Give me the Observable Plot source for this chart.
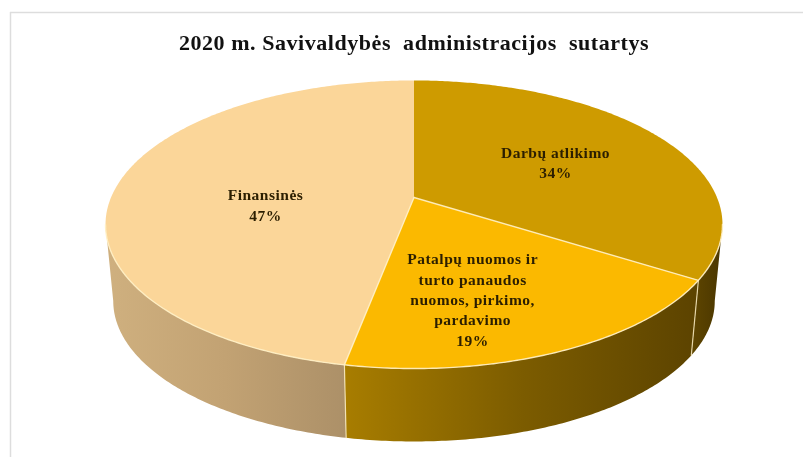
<!DOCTYPE html>
<html>
<head>
<meta charset="utf-8">
<script src="https://cdn.jsdelivr.net/npm/d3@7"></script>
<script src="https://cdn.jsdelivr.net/npm/@observablehq/plot@0.6"></script>
<style>
html,body{margin:0;padding:0;background:#fff}
svg{display:block;filter:blur(0.45px)}
</style>
</head>
<body>
<div id="chart"></div>
<script>
// ---- data ----
const chartTitle = "2020 m. Savivaldybės\u00a0\u00a0administracijos\u00a0\u00a0sutartys";
const categories = ["Darbų atlikimo", "Patalpų nuomos ir\nturto panaudos\nnuomos, pirkimo,\npardavimo", "Finansinės"];
const shares = [34, 19, 47];

// ---- styles ----
const topColors = ["#CE9B00", "#FBB900", "#FBD699"];
const wallStops = [
  ["#5f4600", "#4a3600"],
  ["#a87d00", "#7c5c00", "#5c4300"],
  ["#cfb07f", "#c2a273", "#ac9068"]
];
const seamColor = "#fff0c4";
const frameColor = "#dddddd";
const inkColor = "#2b1e00";

// ---- projection of the tilted disc on the chart plane ----
const W = 803, H = 457;
const cx = 413.5, cy = 197, a = 303, b = 139, k = 0.1875;
const depth = 76.5, bottomScale = 0.975;
const labelTurn = [0.17, 0.4586, 0.7347];
const labelRadius = [0.56, 0.662, 0.488];

function project(theta, r = 1, level = 0) {
  const u = r * Math.sin(theta), v = r * Math.cos(theta), den = 1 + k * v;
  const s = level ? bottomScale : 1;
  const cyAt = level ? cy + depth + (224 - cy) * (1 - s) : cy;
  return {x: cx + s * a * u / den, y: cyAt - s * b * v / den};
}
const TAU = 2 * Math.PI;
const rimLeft = TAU - Math.acos(-k), rimRight = Math.acos(-k);

// slice angles from the shares
const total = d3.sum(shares);
let acc = 0;
const slices = shares.map((s, i) => {
  const start = acc / total * TAU; acc += s;
  return {i, start, end: acc / total * TAU};
});
const arc = (t0, t1, level = 0) => {
  const n = Math.max(2, Math.ceil(Math.abs(t1 - t0) * 90));
  return d3.range(n + 1).map(j => project(t0 + (t1 - t0) * j / n, 1, level));
};

const topPts = slices.flatMap(s =>
  [{x: cx, y: cy}, ...arc(s.start, s.end), {x: cx, y: cy}].map(p => ({...p, slice: s.i})));

const wallSpans = slices
  .map(s => ({i: s.i, t0: Math.max(s.start, rimRight), t1: Math.min(s.end, rimLeft)}))
  .filter(s => s.t1 > s.t0);
const wallPts = wallSpans.map(s => ({
  i: s.i,
  pts: [...arc(s.t0, s.t1), ...arc(s.t1, s.t0, 1)].map(p => ({...p, slice: s.i}))
}));

const rimPts = arc(rimRight, rimLeft);
const spokes = slices.slice(0, 2).map(s => [{x: cx, y: cy}, project(s.end)].map(p => ({...p, id: s.i})));
const seams = slices.slice(0, 2).map(s => [project(s.end), project(s.end, 1, 1)].map(p => ({...p, id: s.i})));

const labels = slices.map(s => {
  const p = project(labelTurn[s.i] * TAU, labelRadius[s.i]);
  return {...p, text: categories[s.i] + "\n" + shares[s.i] + "%"};
});

// gradients for the walls, laid out along the x scale
const defsMark = (index, {x}) => {
  const defs = d3.create("svg:defs");
  wallPts.forEach(w => {
    const [x0, x1] = d3.extent(w.pts, p => p.x);
    const g = defs.append("linearGradient").attr("id", "wall" + w.i)
      .attr("gradientUnits", "userSpaceOnUse")
      .attr("x1", x(x0)).attr("x2", x(x1)).attr("y1", 0).attr("y2", 0);
    const st = wallStops[w.i];
    st.forEach((c, j) => g.append("stop").attr("offset", j / (st.length - 1)).attr("stop-color", c));
  });
  return defs.node();
};

const spaced = px => (index, scales, values, dims, context, next) => {
  const g = next(index, scales, values, dims, context);
  g.setAttribute("letter-spacing", px);
  return g;
};

const chart = Plot.plot({
  width: W, height: H,
  margin: 0,
  style: {background: "#fff"},
  x: {domain: [0, W], range: [0, W], axis: null},
  y: {domain: [0, H], range: [0, H], axis: null},
  marks: [
    defsMark,
    Plot.ruleX([10], {y1: 12, y2: H, stroke: frameColor, strokeWidth: 1.5}),
    Plot.ruleY([12], {x1: 10, x2: W, stroke: frameColor, strokeWidth: 1.5}),
    ...wallPts.map(w => Plot.line(w.pts, {x: "x", y: "y", fill: `url(#wall${w.i})`, stroke: "none", curve: "linear"})),
    ...seams.map(s => Plot.line(s, {x: "x", y: "y", stroke: seamColor, strokeWidth: 1.2, strokeOpacity: 0.8})),
    ...topColors.map((c, i) => Plot.line(topPts.filter(p => p.slice === i), {x: "x", y: "y", fill: c, stroke: "none"})),
    Plot.line(rimPts, {x: "x", y: "y", stroke: seamColor, strokeWidth: 1.4, strokeOpacity: 0.9}),
    ...spokes.map(s => Plot.line(s, {x: "x", y: "y", stroke: seamColor, strokeWidth: 1.4, strokeOpacity: 0.9})),
    Plot.text(labels, {
      x: "x", y: "y", text: "text", fill: inkColor,
      fontFamily: "Liberation Serif", fontWeight: "bold", fontSize: 15.5, lineHeight: 1.31,
      textAnchor: "middle", lineAnchor: "middle", render: spaced("0.5px")
    }),
    Plot.text([chartTitle], {
      x: [cx], y: [42], text: d => d, fill: "#111",
      fontFamily: "Liberation Serif", fontWeight: "bold", fontSize: 22,
      textAnchor: "middle", lineAnchor: "middle", render: spaced("0.55px")
    })
  ]
});
document.getElementById("chart").appendChild(chart);
</script>
</body>
</html>
